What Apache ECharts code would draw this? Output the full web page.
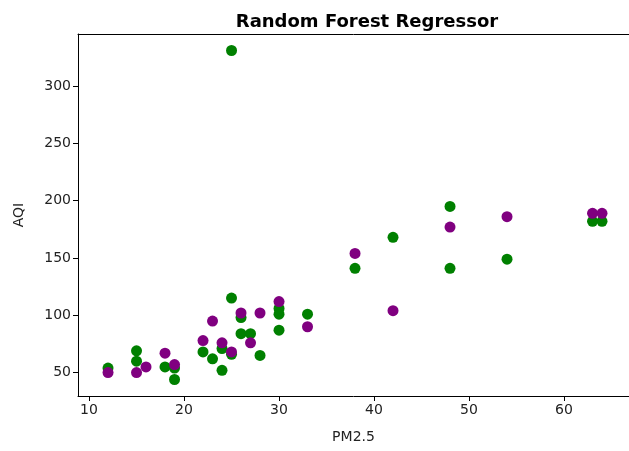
<!DOCTYPE html>
<html>
<head>
<meta charset="utf-8">
<script src="https://cdn.jsdelivr.net/npm/echarts@6/dist/echarts.min.js"></script>
<style>
  html, body { margin: 0; padding: 0; background: #fff; }
  #chart { width: 629px; height: 451px; }
</style>
</head>
<body>
<div id="chart"></div>
<script>
// actual values (green)
const actualPM = [12, 15, 15, 18, 19, 19, 22, 23, 24, 24, 25, 25, 25, 26, 26, 27, 28, 30, 30, 30, 33, 38, 42, 48, 48, 54, 63, 64]
const actualAQI = [54, 69, 60, 55, 54, 44, 68, 62, 52, 71, 331, 115, 66, 98, 84, 84, 65, 106, 101, 87, 101, 141, 168, 195, 141, 149, 182, 182]

// predicted values (purple)
const predPM = [12, 15, 16, 18, 19, 22, 23, 24, 25, 26, 27, 28, 30, 33, 38, 42, 48, 54, 63, 64]
const predAQI = [50, 50, 55, 67, 57, 78, 95, 76, 68, 102, 76, 102, 112, 90, 154, 104, 177, 186, 189, 189]

const xTicks = [10, 20, 30, 40, 50, 60]
const yTicks = [50, 100, 150, 200, 250, 300]

const xMin = 8.84
const xMax = 66.84

const zip = (xs, ys) => xs.map((x, i) => [x, ys[i]])

const font = 'DejaVu Sans'
const axisCommon = {
  axisLine: { show: true, onZero: false, lineStyle: { color: '#000', width: 1 } },
  splitLine: { show: false },
  axisLabel: { color: '#222', fontFamily: font, fontSize: 14, margin: 7 },
  axisTick: { show: true, inside: false, length: 5, lineStyle: { color: '#000' } },
  nameTextStyle: { color: '#222', fontFamily: font, fontSize: 14 }
}

const option = {
  backgroundColor: '#fff',
  animation: false,
  title: {
    text: 'Random Forest Regressor',
    left: 362,
    textAlign: 'center',
    top: 8,
    textStyle: { fontFamily: font, fontSize: 18, fontWeight: 'bold', color: '#000' }
  },
  // right spine is cut off by the picture's edge in the source, so no grid border
  grid: { left: 78, right: 0, top: 34, bottom: 55 },
  xAxis: [
    {
      ...axisCommon,
      type: 'value',
      min: xMin,
      max: xMax,
      name: 'PM2.5',
      nameLocation: 'middle',
      nameGap: 34,
      axisLabel: { ...axisCommon.axisLabel, customValues: xTicks },
      axisTick: { ...axisCommon.axisTick, customValues: xTicks }
    },
    {
      // top spine only
      type: 'value',
      position: 'top',
      min: xMin,
      max: xMax,
      axisLine: { show: true, lineStyle: { color: '#000', width: 1 } },
      axisTick: { show: false },
      axisLabel: { show: false },
      splitLine: { show: false }
    }
  ],
  yAxis: {
    ...axisCommon,
    type: 'value',
    min: 29.6,
    max: 345.4,
    name: 'AQI',
    nameLocation: 'middle',
    nameGap: 52,
    axisLabel: { ...axisCommon.axisLabel, customValues: yTicks },
    axisTick: { ...axisCommon.axisTick, customValues: yTicks }
  },
  series: [
    {
      name: 'Actual',
      type: 'scatter',
      symbolSize: 11,
      itemStyle: { color: '#008000', opacity: 1 },
      data: zip(actualPM, actualAQI)
    },
    {
      name: 'Predicted',
      type: 'scatter',
      symbolSize: 11,
      itemStyle: { color: '#800080', opacity: 1 },
      data: zip(predPM, predAQI)
    }
  ]
}

const myChart = echarts.init(document.getElementById('chart'))
myChart.setOption(option)
</script>
</body>
</html>
